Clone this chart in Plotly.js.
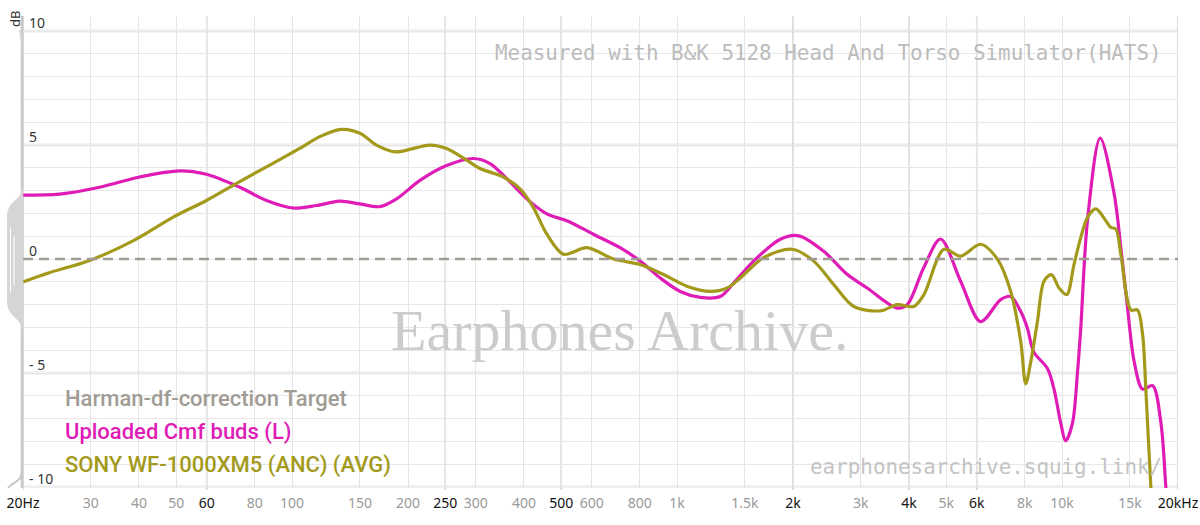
<!DOCTYPE html>
<html>
<head>
<meta charset="utf-8">
<script src="https://cdn.plot.ly/plotly-3.0.1.min.js"></script>
<style>html,body{margin:0;padding:0;background:#fff;}#chart{width:1200px;height:525px;}</style>
</head>
<body>
<div id="chart"></div>
<script>
// ---- Data ----
const targetFreq = [20, 20000];
const targetDb = [0, 0];

const cmfFreq = [20, 24.9, 31.6, 40.2, 51, 59.9, 73.1, 85.8, 100.6, 115.7, 133, 150, 169, 186.8, 214.8, 252, 295.5, 326.6, 361, 407, 459, 517, 606, 711, 802, 904, 1019, 1149, 1295, 1402, 1580, 1854, 2070, 2400, 2764, 3116, 3730, 3960, 4370, 4834, 5450, 6144, 6926, 7354, 7810, 8126, 8440, 9160, 9528, 9920, 10218, 10640, 10960, 11180, 11640, 12556, 13652, 14210, 14792, 15390, 16180, 17180, 18054, 18600, 19000];
const cmfDb = [2.8, 2.85, 3.15, 3.6, 3.87, 3.72, 3.15, 2.57, 2.24, 2.35, 2.54, 2.42, 2.3, 2.64, 3.45, 4.1, 4.41, 4.19, 3.53, 2.64, 1.98, 1.68, 1.09, 0.5, -0.09, -0.83, -1.42, -1.68, -1.64, -1.05, -0.09, 0.87, 1.02, 0.35, -0.67, -1.27, -2.15, -2.0, -0.38, 0.88, -0.97, -2.74, -1.78, -1.64, -2.3, -3.03, -4.07, -4.8, -5.7, -7.2, -7.97, -7.2, -5.0, -3.04, 1.7, 5.3, 2.86, 0.5, -2.15, -4.5, -5.7, -5.55, -7.17, -10.0, -12.0];

const sonyFreq = [20, 23.4, 29.8, 38.6, 49, 59.9, 73.1, 89.2, 104.7, 118, 134.4, 150, 165.7, 185, 228, 252, 284, 307.6, 353.7, 390.9, 423, 459, 507, 583, 684, 802, 922, 1060, 1220, 1348, 1460, 1678, 1990, 2264, 2552, 2878, 3376, 3730, 4120, 4376, 4932, 5450, 6144, 6790, 7354, 7810, 8044, 8290, 8628, 8974, 9384, 9820, 10280, 10740, 11180, 11640, 12234, 12990, 13384, 13790, 14210, 15090, 15700, 16180, 16500, 17004, 17400];
const sonyDb = [-1.0, -0.6, -0.06, 0.8, 1.83, 2.57, 3.4, 4.2, 4.85, 5.37, 5.69, 5.52, 5.0, 4.7, 5.0, 4.85, 4.34, 3.97, 3.6, 3.08, 2.27, 1.09, 0.21, 0.5, 0.0, -0.24, -0.68, -1.19, -1.42, -1.27, -0.83, 0.06, 0.43, -0.09, -1.12, -2.08, -2.27, -2.0, -2.08, -1.56, 0.43, 0.13, 0.65, 0.0, -1.42, -3.63, -5.47, -4.51, -2.74, -0.97, -0.68, -1.27, -1.56, -0.23, 0.94, 1.83, 2.2, 1.68, 1.39, 1.32, 0.21, -2.23, -2.23, -3.3, -5.69, -10.0, -12.5];

const xTickVals = [20, 30, 40, 50, 60, 80, 100, 150, 200, 250, 300, 400, 500, 600, 800, 1000, 1500, 2000, 3000, 4000, 5000, 6000, 8000, 10000, 15000, 20000];
const xTickText = ['20Hz', '30', '40', '50', '60', '80', '100', '150', '200', '250', '300', '400', '500', '600', '800', '1k', '1.5k', '2k', '3k', '4k', '5k', '6k', '8k', '10k', '15k', '20kHz'];
const xTickMajor = [20, 60, 250, 500, 2000, 4000, 6000, 20000];
const yTickVals = [-10, -5, 0, 5, 10];
const yTickText = ['- 10', '- 5', '0', '5', '10'];

const seriesNames = ['Harman-df-correction Target', 'Uploaded Cmf buds (L)', 'SONY WF-1000XM5 (ANC) (AVG)'];
const seriesColors = ['#a09c95', '#e01cb6', '#a39a1c'];

// ---- Layout helpers ----
const L = 23, T = 16, W = 1155, H = 472;
const px = v => (v - L) / W;
const py = v => (T + H - v) / H;

const traces = [
  {x: cmfFreq, y: cmfDb, mode: 'lines', line: {color: seriesColors[1], width: 3.2, shape: 'spline', smoothing: 0.9}, hoverinfo: 'skip'},
  {x: sonyFreq, y: sonyDb, mode: 'lines', line: {color: seriesColors[2], width: 3.2, shape: 'spline', smoothing: 0.9}, hoverinfo: 'skip'},
  {x: targetFreq, y: targetDb, mode: 'lines', line: {color: seriesColors[0], width: 2.6, dash: '10px,6px'}, hoverinfo: 'skip'}
];

const shapes = [];
// major horizontal gridlines
[-10, -5, 5, 10].forEach(v => shapes.push({type: 'line', xref: 'paper', yref: 'y', x0: 0, x1: 1, y0: v, y1: v, line: {color: '#efefef', width: 3.5}, layer: 'between'}));
// major vertical gridlines
xTickMajor.forEach(v => shapes.push({type: 'line', xref: 'x', yref: 'paper', x0: v, x1: v, y0: -0.004, y1: 1, line: {color: '#d0d0d0', width: 1.5}, layer: 'between'}));
// left axis line + handle decoration
shapes.push({type: 'line', xref: 'paper', yref: 'paper', x0: px(22), x1: px(22), y0: py(488), y1: py(16), line: {color: '#c8c8c8', width: 2.5}, layer: 'above'});
shapes.push({type: 'path', xref: 'paper', yref: 'paper', path:
  `M ${px(23)},${py(182)} C ${px(23)},${py(203)} ${px(8)},${py(198)} ${px(7)},${py(216)} L ${px(7)},${py(302)} C ${px(8)},${py(320)} ${px(23)},${py(315)} ${px(23)},${py(336)} Z`,
  fillcolor: '#d5d5d5', line: {width: 0}, layer: 'above'});
shapes.push({type: 'line', xref: 'paper', yref: 'paper', x0: px(10.5), x1: px(10.5), y0: py(292), y1: py(228), line: {color: '#ffffff', width: 1}, layer: 'above'});
shapes.push({type: 'line', xref: 'paper', yref: 'paper', x0: px(14), x1: px(14), y0: py(285), y1: py(236), line: {color: '#ffffff', width: 1}, layer: 'above'});
shapes.push({type: 'path', xref: 'paper', yref: 'paper', path:
  `M ${px(22)},${py(468)} C ${px(22)},${py(484)} ${px(14)},${py(480)} ${px(8)},${py(488)}`,
  line: {color: '#c8c8c8', width: 2}, layer: 'above'});
shapes.push({type: 'path', xref: 'paper', yref: 'paper', path:
  `M ${px(22)},${py(55)} C ${px(21)},${py(42)} ${px(20)},${py(36)} ${px(19)},${py(30)} L ${px(22)},${py(30)} Z`,
  fillcolor: '#d5d5d5', line: {width: 0}, layer: 'above'});

const annotations = [];
// y tick labels
yTickVals.forEach((v, i) => annotations.push({xref: 'paper', yref: 'y', x: px(27), y: v, yshift: -3, text: yTickText[i], showarrow: false, xanchor: 'left', yanchor: 'bottom', font: {family: 'Noto Sans, sans-serif', size: 14, color: '#333333'}}));
annotations.push({xref: 'paper', yref: 'paper', x: px(15), y: py(19), text: 'dB', textangle: -90, showarrow: false, xanchor: 'center', yanchor: 'middle', font: {family: 'Noto Sans, sans-serif', size: 13, color: '#333333'}});
// legend texts
const legendY = [398, 432, 465];
seriesNames.forEach((n, i) => annotations.push({xref: 'paper', yref: 'paper', x: px(63), y: py(legendY[i]), text: n, showarrow: false, xanchor: 'left', yanchor: 'middle', font: {family: 'Roboto, sans-serif', size: 22, weight: 500, color: seriesColors[i]}}));
// watermarks
annotations.push({xref: 'paper', yref: 'paper', x: px(620), y: py(330), text: 'Earphones Archive.', showarrow: false, xanchor: 'center', yanchor: 'middle', font: {family: 'Liberation Serif, serif', size: 58, color: '#cccccc'}});
annotations.push({xref: 'paper', yref: 'paper', x: px(1164), y: py(53), text: 'Measured with B&K 5128 Head And Torso Simulator(HATS)', showarrow: false, xanchor: 'right', yanchor: 'middle', font: {family: 'DejaVu Sans Mono, monospace', size: 20.9, color: '#bcbcbc'}});
annotations.push({xref: 'paper', yref: 'paper', x: px(1164), y: py(467), text: 'earphonesarchive.squig.link/', showarrow: false, xanchor: 'right', yanchor: 'middle', font: {family: 'DejaVu Sans Mono, monospace', size: 20.9, color: '#c4c4c4'}});

const tickTextStyled = xTickText.map((t, i) => xTickMajor.includes(xTickVals[i]) ? t : `<span style="fill:#9a9a9a">${t}</span>`);

const layout = {
  width: 1200, height: 525,
  margin: {l: L, r: 1200 - L - W, t: T, b: 525 - T - H, pad: 0},
  paper_bgcolor: '#ffffff', plot_bgcolor: '#ffffff',
  showlegend: false,
  xaxis: {type: 'log', range: [Math.log10(20), Math.log10(20000)], tickvals: xTickVals, ticktext: tickTextStyled,
    showgrid: true, gridcolor: '#e5e5e5', gridwidth: 1, zeroline: false, showline: false, ticks: '', ticklabelstandoff: 5,
    tickfont: {family: 'Noto Sans, sans-serif', size: 14, color: '#111111'}, fixedrange: true},
  yaxis: {range: [-10.04, 10.66], dtick: 1, tick0: 0, showticklabels: false, ticks: '', showgrid: true, gridcolor: '#e7e7e7', gridwidth: 1, zeroline: false, showline: false, fixedrange: true},
  shapes: shapes,
  annotations: annotations
};

Plotly.newPlot('chart', traces, layout, {staticPlot: true, displayModeBar: false});
</script>
</body>
</html>
